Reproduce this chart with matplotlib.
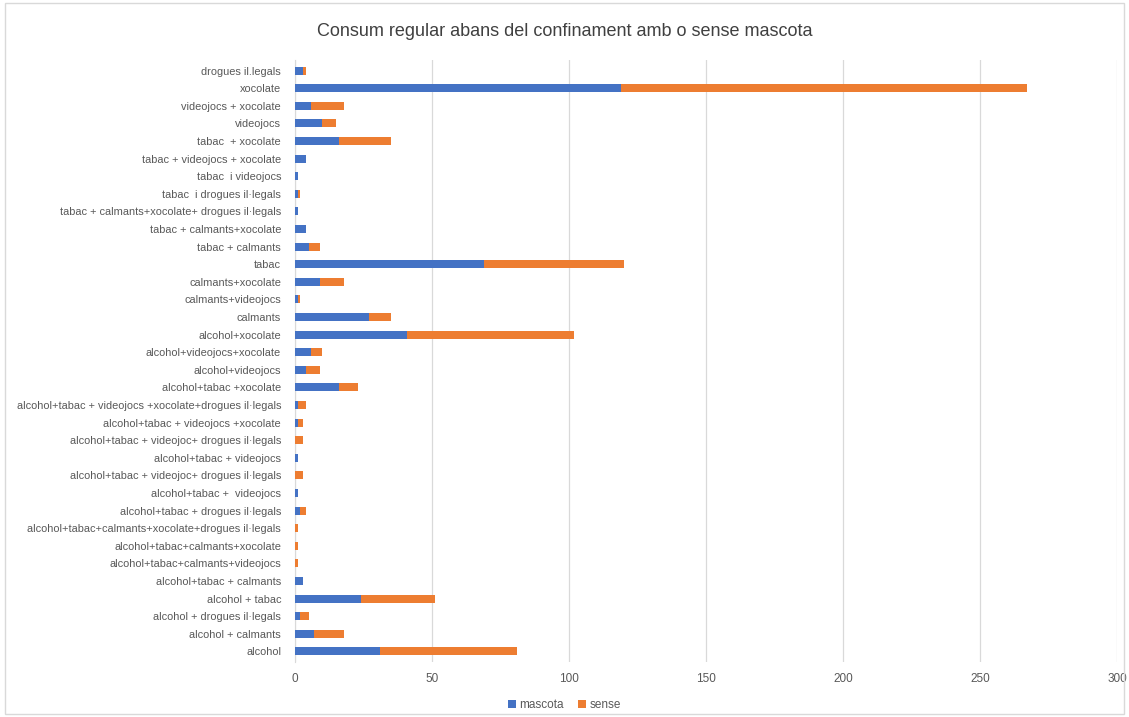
import matplotlib.pyplot as plt
import numpy as np

# Categories listed from bottom to top of the chart
categories = [
    "alcohol",
    "alcohol + calmants",
    "alcohol + drogues il·legals",
    "alcohol + tabac",
    "alcohol+tabac + calmants",
    "alcohol+tabac+calmants+videojocs",
    "alcohol+tabac+calmants+xocolate",
    "alcohol+tabac+calmants+xocolate+drogues il·legals",
    "alcohol+tabac + drogues il·legals",
    "alcohol+tabac +  videojocs",
    "alcohol+tabac + videojoc+ drogues il·legals",
    "alcohol+tabac + videojocs",
    "alcohol+tabac + videojoc+ drogues il·legals",
    "alcohol+tabac + videojocs +xocolate",
    "alcohol+tabac + videojocs +xocolate+drogues il·legals",
    "alcohol+tabac +xocolate",
    "alcohol+videojocs",
    "alcohol+videojocs+xocolate",
    "alcohol+xocolate",
    "calmants",
    "calmants+videojocs",
    "calmants+xocolate",
    "tabac",
    "tabac + calmants",
    "tabac + calmants+xocolate",
    "tabac + calmants+xocolate+ drogues il·legals",
    "tabac  i drogues il·legals",
    "tabac  i videojocs",
    "tabac + videojocs + xocolate",
    "tabac  + xocolate",
    "videojocs",
    "videojocs + xocolate",
    "xocolate",
    "drogues il.legals",
]

mascota = [31, 7, 2, 24, 3, 0, 0, 0, 2, 1, 0, 1, 0, 1, 1, 16, 4, 6, 41,
           27, 1, 9, 69, 5, 4, 1, 1, 1, 4, 16, 10, 6, 119, 3]
sense = [50, 11, 3, 27, 0, 1, 1, 1, 2, 0, 3, 0, 3, 2, 3, 7, 5, 4, 61,
         8, 1, 9, 51, 4, 0, 0, 1, 0, 0, 19, 5, 12, 148, 1]

blue = "#4472C4"
orange = "#ED7D31"
text_color = "#595959"

plt.rcParams["font.family"] = ["Liberation Sans", "DejaVu Sans"]

fig = plt.figure(figsize=(11.29, 7.17), dpi=100)
ax = fig.add_axes([295 / 1129, 1 - 662 / 717, 822 / 1129, 602 / 717])

y = np.arange(len(categories))
ax.barh(y, mascota, height=0.45, color=blue, label="mascota", zorder=3)
ax.barh(y, sense, left=mascota, height=0.45, color=orange, label="sense", zorder=3)

ax.set_xlim(0, 300)
ax.set_ylim(-0.6, len(categories) - 0.4)
ax.set_xticks(np.arange(0, 301, 50))
ax.set_yticks(y)
ax.set_yticklabels(categories)
ax.tick_params(axis="both", length=0, colors=text_color, labelsize=8.5)
ax.tick_params(axis="y", labelsize=7.9, pad=10)
ax.tick_params(axis="x", pad=8)
ax.grid(axis="x", color="#D9D9D9", linewidth=0.9, zorder=0)

for side in ["top", "right", "bottom"]:
    ax.spines[side].set_visible(False)
ax.spines["left"].set_color("#D9D9D9")

fig.text(0.5, 1 - 32 / 717, "Consum regular abans del confinament amb o sense mascota",
         ha="center", va="center", fontsize=13, color="#404040")

fig.legend(loc="center", bbox_to_anchor=(0.5, 1 - 705 / 717), ncol=2, frameon=False,
           fontsize=8.5, handlelength=0.7, handleheight=0.7, columnspacing=1.2,
           handletextpad=0.3, labelcolor=text_color)

# light border around the whole chart
fig.patches.append(plt.Rectangle((0.004, 0.004), 0.992, 0.992, transform=fig.transFigure,
                                 fill=False, edgecolor="#D9D9D9", linewidth=1))

fig.savefig("out.png", dpi=100)
